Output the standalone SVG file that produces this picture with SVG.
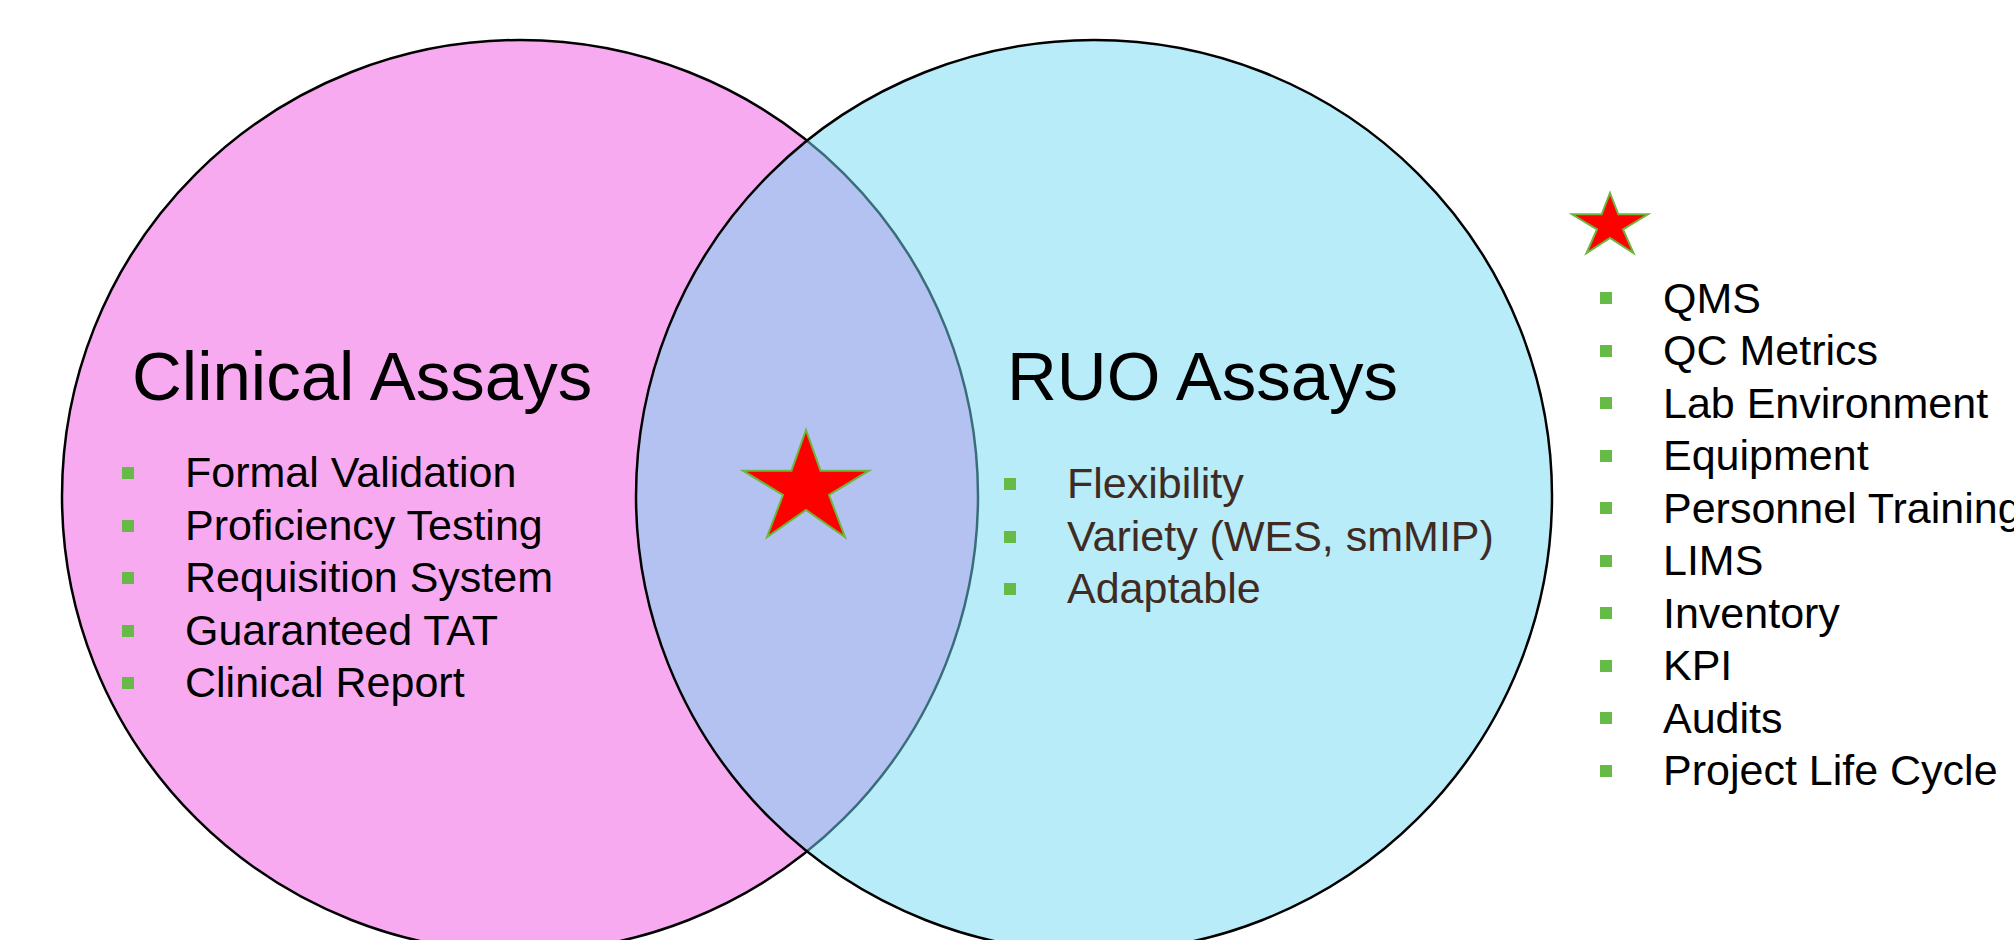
<svg xmlns="http://www.w3.org/2000/svg" width="2014" height="940" viewBox="0 0 2014 940">
<style>
  .title { font-family: "Liberation Sans", Arial, sans-serif; font-size: 69px; fill: #000000; }
  .item { font-family: "Liberation Sans", Arial, sans-serif; font-size: 43px; fill: #000000; }
  .item-ruo { font-family: "Liberation Sans", Arial, sans-serif; font-size: 43px; fill: #3F2B24; }
  .bullet { fill: #66BB46; }
  .star { fill: #FF0000; stroke: #6CB63C; stroke-width: 2; stroke-linejoin: miter; }
  .circle-clin { fill: #F7AAF0; stroke: #000000; stroke-width: 2.5; }
  .circle-ruo { fill: #71D9F1; fill-opacity: 0.5; stroke: #000000; stroke-width: 2.5; }
</style>
<rect x="0" y="0" width="2014" height="940" fill="#FFFFFF"/>

<g id="clinical-assays">
  <ellipse class="circle-clin" cx="520" cy="496" rx="458" ry="456"/>
</g>
<g id="ruo-assays">
  <ellipse class="circle-ruo" cx="1094" cy="496" rx="458" ry="456"/>
</g>

<g id="clinical-text">
  <text class="title" x="132" y="400">Clinical Assays</text>
  <rect class="bullet" x="122" y="467" width="12" height="12"/>
  <text class="item" x="185" y="487">Formal Validation</text>
  <rect class="bullet" x="122" y="520" width="12" height="12"/>
  <text class="item" x="185" y="540">Proficiency Testing</text>
  <rect class="bullet" x="122" y="572" width="12" height="12"/>
  <text class="item" x="185" y="592">Requisition System</text>
  <rect class="bullet" x="122" y="625" width="12" height="12"/>
  <text class="item" x="185" y="645">Guaranteed TAT</text>
  <rect class="bullet" x="122" y="677" width="12" height="12"/>
  <text class="item" x="185" y="697">Clinical Report</text>
</g>

<g id="ruo-text">
  <text class="title" x="1007" y="400">RUO Assays</text>
  <rect class="bullet" x="1004" y="478" width="12" height="12"/>
  <text class="item-ruo" x="1067" y="498">Flexibility</text>
  <rect class="bullet" x="1004" y="531" width="12" height="12"/>
  <text class="item-ruo" x="1067" y="551">Variety (WES, smMIP)</text>
  <rect class="bullet" x="1004" y="583" width="12" height="12"/>
  <text class="item-ruo" x="1067" y="603">Adaptable</text>
</g>

<g id="overlap-star">
  <polygon class="star" points="806,430 820.5,470.7 869,470.7 829,495 845,537 806,510 767,537 783,495 743,470.7 791.5,470.7"/>
</g>

<g id="legend">
  <polygon class="star" points="1610,193 1618.3,214.3 1648,214.3 1623,229.5 1633.5,253 1610,238 1586.5,253 1597,229.5 1572,214.3 1601.7,214.3"/>
  <rect class="bullet" x="1600" y="292" width="12" height="12"/>
  <text class="item" x="1663" y="313">QMS</text>
  <rect class="bullet" x="1600" y="345" width="12" height="12"/>
  <text class="item" x="1663" y="365">QC Metrics</text>
  <rect class="bullet" x="1600" y="397" width="12" height="12"/>
  <text class="item" x="1663" y="418">Lab Environment</text>
  <rect class="bullet" x="1600" y="450" width="12" height="12"/>
  <text class="item" x="1663" y="470">Equipment</text>
  <rect class="bullet" x="1600" y="502" width="12" height="12"/>
  <text class="item" x="1663" y="523">Personnel Training</text>
  <rect class="bullet" x="1600" y="555" width="12" height="12"/>
  <text class="item" x="1663" y="575">LIMS</text>
  <rect class="bullet" x="1600" y="607" width="12" height="12"/>
  <text class="item" x="1663" y="628">Inventory</text>
  <rect class="bullet" x="1600" y="660" width="12" height="12"/>
  <text class="item" x="1663" y="680">KPI</text>
  <rect class="bullet" x="1600" y="712" width="12" height="12"/>
  <text class="item" x="1663" y="733">Audits</text>
  <rect class="bullet" x="1600" y="765" width="12" height="12"/>
  <text class="item" x="1663" y="785">Project Life Cycle</text>
</g>

<g id="connectors"/>
</svg>
